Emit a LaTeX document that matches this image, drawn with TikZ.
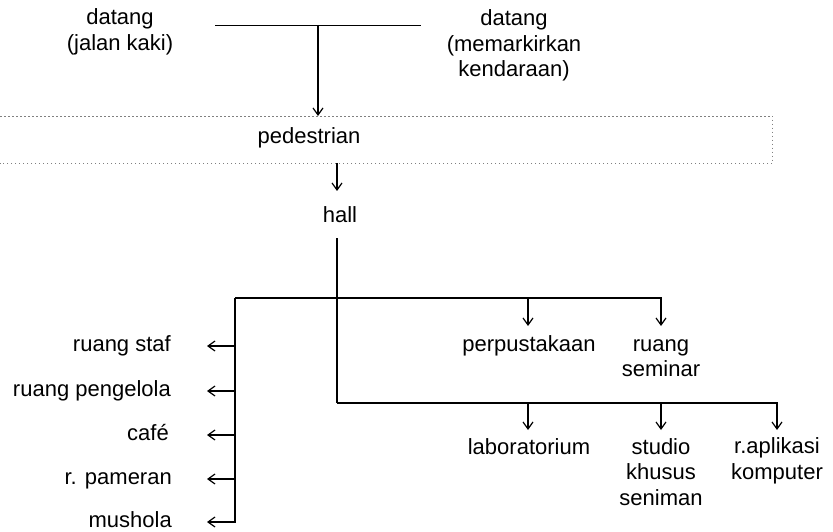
\documentclass[tikz,border=0pt]{standalone}
\usepackage{fontspec}
\setmainfont{Liberation Sans}
\usetikzlibrary{arrows.meta}
\begin{document}
\begin{tikzpicture}[x=1pt,y=-1pt,
  lbl/.style={inner sep=0pt, align=center, font=\fontsize{22}{25.5}\selectfont},
  ln/.style={line width=1.25pt, black},
  arr/.style={ln, -{Straight Barb[length=7pt,width=10pt,line width=1.2pt]}},
  dotline/.style={gray, line width=0.7pt, dash pattern=on 1.5pt off 2.5pt}]
\useasboundingbox (0,0) rectangle (833,532);
% top
\node[lbl] (jalan) at (120,32.5) {\strut datang\\\strut(jalan kaki)};
\node[lbl] (parkir) at (514,46) {\strut datang\\\strut(memarkirkan\\\strut kendaraan)};
\coordinate (tl) at (215,25);
\coordinate (tr) at (421,25);
\coordinate (tm) at (318,25);
\draw[line width=0.9pt] (tl) -- (tr);
% pedestrian box
\node[inner sep=0pt, minimum width=772pt, minimum height=47pt, anchor=north west] (pedbox) at (0,116) {};
\draw[dotline] (pedbox.north west) -- (pedbox.north east) -- (pedbox.south east) -- (pedbox.south west);
\node[lbl] (ped) at (309,138) {\strut pedestrian};
\draw[arr] (tm) -- (tm |- pedbox.north);
% hall
\node[lbl] (hall) at (340,217) {\strut hall};
\coordinate (h1) at (337,163);
\coordinate (h2) at (337,191);
\draw[arr] (h1) -- (h2);
\coordinate (hb) at (337,238);
\coordinate (jb) at (337,403);
% upper branch
\coordinate (ul) at (235,298);
\coordinate (ur) at (661,298);
\coordinate (um) at (528,298);
\node[lbl] (perp) at (529,346) {\strut perpustakaan};
\node[lbl] (sem) at (661,359) {\strut ruang\\\strut seminar};
\draw[arr] (um) -- (528,326);
\draw[arr] (ul) -- (ur) -- (661,326);
% lower branch
\coordinate (lr) at (777,403);
\node[lbl] (lab) at (529,449) {\strut laboratorium};
\node[lbl] (stu) at (661,474.5) {\strut studio\\\strut khusus\\\strut seniman};
\node[lbl] (kom) at (777,461.5) {\strut r.aplikasi\\\strut komputer};
\draw[ln] (hb) -- (jb);
\draw[arr] (jb) -- (lr) -- (777,430);
\draw[arr] (528,403) -- (528,430);
\draw[arr] (661,403) -- (661,430);
% left branch
\node[lbl, anchor=east] (staf) at (171,346) {\strut ruang staf};
\node[lbl, anchor=east] (peng) at (171,391) {\strut ruang pengelola};
\node[lbl, anchor=east] (cafe) at (169,435) {\strut café};
\node[lbl, anchor=east] (pam) at (172,479) {\strut r. pameran};
\node[lbl, anchor=base east] (mus) at (172,527) {mushola};
\coordinate (lb) at (235,522);
\draw[arr] (ul) -- (lb) -- (207,522);
\draw[arr] (235,346) -- (207,346);
\draw[arr] (235,391) -- (207,391);
\draw[arr] (235,435) -- (207,435);
\draw[arr] (235,479) -- (207,479);
\end{tikzpicture}
\end{document}
